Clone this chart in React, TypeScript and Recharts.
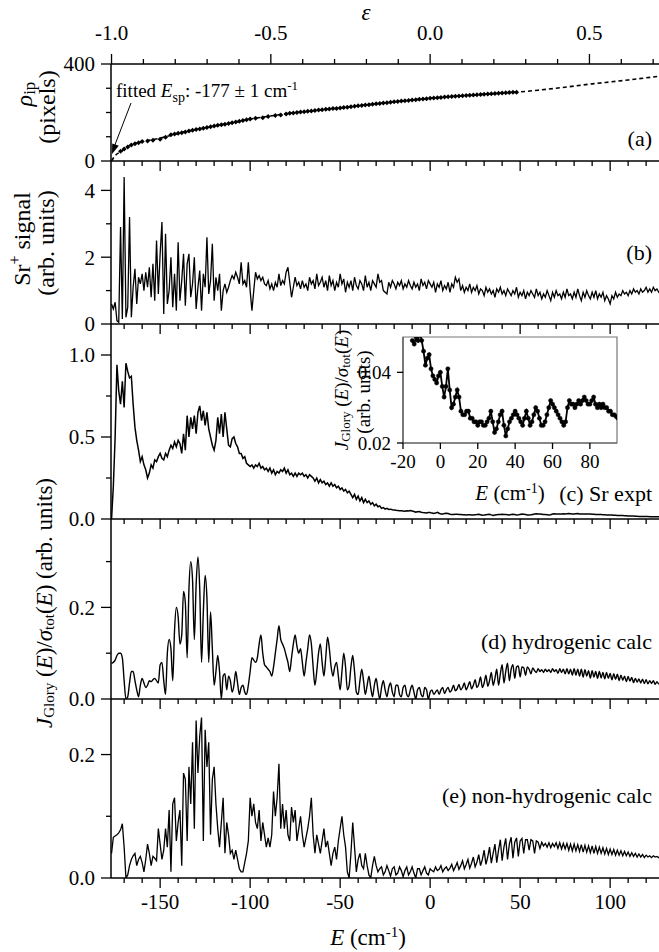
import React from 'react';
import { ComposedChart, LineChart, Line, Scatter, XAxis, YAxis, ReferenceArea } from 'recharts';

const FONT = "'Liberation Serif', 'Times New Roman', Times, 'DejaVu Serif', serif";

// ---------- shared energy grid (cm^-1) ----------
const E_GRID = [
  -177, -176, -175, -174, -173, -172, -171, -170, -169, -168,
  -167, -166, -165, -164, -163, -162, -161, -160, -159, -158,
  -157, -156, -155, -154, -153, -152, -151, -150, -149, -148,
  -147, -146, -145, -144, -143, -142, -141, -140, -139, -138,
  -137, -136, -135, -134, -133, -132, -131, -130, -129, -128,
  -127, -126, -125, -124, -123, -122, -121, -120, -119, -118,
  -117, -116, -115, -114, -113, -112, -111, -110, -109, -108,
  -107, -106, -105, -104, -103, -102, -101, -100, -99, -98,
  -97, -96, -95, -94, -93, -92, -91, -90, -89, -88,
  -87, -86, -85, -84, -83, -82, -81, -80, -79, -78,
  -77, -76, -75, -74, -73, -72, -71, -70, -69, -68,
  -67, -66, -65, -64, -63, -62, -61, -60, -59, -58,
  -57, -56, -55, -54, -53, -52, -51, -50, -49, -48,
  -47, -46, -45, -44, -43, -42, -41, -40, -39, -38,
  -37, -36, -35, -34, -33, -32, -31, -30, -29, -28,
  -27, -26, -25, -24, -23, -22, -21, -20, -19, -18,
  -17, -16, -15, -14, -13, -12, -11, -10, -9, -8,
  -7, -6, -5, -4, -3, -2, -1, 0, 1, 2,
  3, 4, 5, 6, 7, 8, 9, 10, 11, 12,
  13, 14, 15, 16, 17, 18, 19, 20, 21, 22,
  23, 24, 25, 26, 27, 28, 29, 30, 31, 32,
  33, 34, 35, 36, 37, 38, 39, 40, 41, 42,
  43, 44, 45, 46, 47, 48, 49, 50, 51, 52,
  53, 54, 55, 56, 57, 58, 59, 60, 61, 62,
  63, 64, 65, 66, 67, 68, 69, 70, 71, 72,
  73, 74, 75, 76, 77, 78, 79, 80, 81, 82,
  83, 84, 85, 86, 87, 88, 89, 90, 91, 92,
  93, 94, 95, 96, 97, 98, 99, 100, 101, 102,
  103, 104, 105, 106, 107, 108, 109, 110, 111, 112,
  113, 114, 115, 116, 117, 118, 119, 120, 121, 122,
  123, 124, 125, 126, 127, 128,
];

// (b) Sr+ signal
const SIGNAL_B = [
  0.60, 0.45, 0.65, 0.10, 0.05, 2.90, 0.15, 4.40, 0.20, 0.50,
  3.20, 0.20, 1.10, 1.65, 0.60, 1.40, 1.20, 1.50, 1.00, 1.55,
  1.10, 1.70, 0.80, 1.80, 0.70, 2.50, 0.90, 2.10, 3.05, 0.30,
  2.70, 0.60, 1.00, 2.00, 0.50, 1.50, 0.40, 2.45, 0.70, 1.30,
  2.10, 0.55, 1.80, 2.10, 0.80, 1.20, 2.00, 0.45, 1.10, 1.60,
  0.40, 1.50, 1.10, 2.60, 0.90, 1.30, 2.40, 0.70, 1.40, 1.00,
  1.50, 0.40, 1.00, 1.20, 0.95, 1.10, 1.30, 1.45, 1.35, 1.55,
  1.40, 1.20, 1.85, 1.20, 1.30, 1.10, 1.85, 1.00, 0.40, 1.00,
  1.55, 1.35, 1.45, 1.30, 1.40, 1.20, 1.15, 1.30, 1.05, 1.20,
  1.00, 1.25, 1.10, 1.50, 1.15, 1.30, 1.20, 1.55, 1.70, 1.25,
  0.80, 1.10, 1.40, 1.15, 1.25, 1.05, 1.30, 1.10, 1.20, 1.00,
  1.40, 1.20, 1.30, 1.05, 1.50, 1.15, 1.25, 1.40, 1.10, 1.30,
  1.00, 1.45, 1.15, 1.30, 1.00, 1.25, 1.10, 1.50, 1.20, 1.35,
  0.95, 1.25, 1.10, 1.30, 1.00, 1.40, 1.15, 1.05, 1.30, 1.20,
  1.00, 1.45, 1.10, 1.25, 1.00, 1.30, 1.20, 1.10, 1.50, 1.25,
  1.30, 1.00, 0.95, 0.90, 1.25, 1.10, 1.30, 1.20, 1.05, 1.25,
  1.15, 1.30, 1.05, 1.20, 1.10, 1.30, 1.15, 1.05, 1.25, 1.10,
  1.20, 1.00, 1.35, 1.15, 1.25, 1.05, 1.30, 1.20, 1.10, 1.25,
  0.95, 1.20, 1.10, 1.30, 1.00, 1.15, 1.05, 1.25, 0.95, 1.20,
  1.10, 1.40, 1.25, 1.35, 1.00, 1.15, 0.95, 1.10, 1.00, 1.20,
  0.95, 1.10, 1.00, 1.15, 0.90, 1.05, 1.00, 0.85, 1.10, 0.95,
  1.05, 0.90, 1.00, 0.80, 1.05, 0.95, 1.10, 0.90, 1.00, 0.85,
  1.05, 0.95, 0.85, 1.00, 0.90, 1.10, 0.80, 0.95, 0.85, 1.00,
  0.75, 0.95, 0.85, 1.00, 0.90, 0.80, 1.05, 0.85, 0.95, 0.75,
  0.90, 0.80, 1.00, 0.85, 0.70, 0.95, 0.80, 1.00, 0.85, 0.90,
  0.75, 0.95, 0.80, 1.05, 0.85, 0.90, 0.75, 0.95, 0.80, 1.05,
  0.85, 0.70, 0.95, 0.80, 1.00, 0.85, 0.75, 0.95, 0.80, 1.00,
  0.75, 0.90, 0.80, 0.95, 0.70, 0.85, 0.75, 0.60, 0.85, 0.75,
  0.95, 0.80, 0.90, 0.85, 1.00, 0.90, 0.95, 0.85, 1.00, 0.90,
  1.05, 0.95, 1.00, 0.90, 1.05, 0.95, 1.00, 1.10, 0.95, 1.05,
  0.95, 1.10, 1.00, 1.05, 0.95, 1.00,
];

// (c) Sr expt  J_Glory/sigma_tot
const EXPT_C = [
  0.00, 0.20, 0.50, 0.94, 0.78, 0.70, 0.84, 0.68, 0.95, 0.90,
  0.86, 0.87, 0.70, 0.56, 0.48, 0.42, 0.35, 0.38, 0.33, 0.30,
  0.25, 0.28, 0.33, 0.31, 0.36, 0.35, 0.38, 0.40, 0.37, 0.36,
  0.40, 0.38, 0.42, 0.45, 0.43, 0.47, 0.44, 0.48, 0.46, 0.40,
  0.52, 0.42, 0.63, 0.50, 0.62, 0.55, 0.63, 0.52, 0.65, 0.69,
  0.60, 0.66, 0.57, 0.65, 0.55, 0.50, 0.45, 0.42, 0.48, 0.62,
  0.52, 0.64, 0.50, 0.65, 0.55, 0.45, 0.44, 0.49, 0.50, 0.46,
  0.44, 0.40, 0.40, 0.37, 0.38, 0.34, 0.33, 0.32, 0.33, 0.31,
  0.33, 0.32, 0.34, 0.31, 0.32, 0.30, 0.31, 0.29, 0.31, 0.28,
  0.30, 0.27, 0.29, 0.28, 0.30, 0.29, 0.31, 0.28, 0.30, 0.27,
  0.28, 0.26, 0.28, 0.26, 0.28, 0.27, 0.28, 0.26, 0.27, 0.25,
  0.27, 0.26, 0.25, 0.23, 0.25, 0.22, 0.24, 0.22, 0.23, 0.21,
  0.22, 0.20, 0.22, 0.20, 0.21, 0.19, 0.20, 0.18, 0.19, 0.17,
  0.18, 0.16, 0.17, 0.15, 0.13, 0.15, 0.12, 0.14, 0.11, 0.13,
  0.10, 0.12, 0.10, 0.11, 0.09, 0.10, 0.08, 0.09, 0.075, 0.08,
  0.065, 0.07, 0.06, 0.065, 0.058, 0.06, 0.056, 0.055, 0.053, 0.052,
  0.051, 0.050, 0.049, 0.048, 0.050, 0.049, 0.051, 0.049, 0.046, 0.042,
  0.044, 0.045, 0.041, 0.039, 0.038, 0.037, 0.039, 0.040, 0.036, 0.033,
  0.036, 0.041, 0.035, 0.030, 0.031, 0.033, 0.035, 0.033, 0.029, 0.028,
  0.028, 0.029, 0.029, 0.027, 0.027, 0.026, 0.026, 0.025, 0.026, 0.026,
  0.025, 0.025, 0.026, 0.027, 0.029, 0.026, 0.023, 0.024, 0.026, 0.028,
  0.029, 0.025, 0.022, 0.024, 0.026, 0.027, 0.028, 0.029, 0.028, 0.027,
  0.026, 0.025, 0.027, 0.029, 0.027, 0.025, 0.026, 0.028, 0.030, 0.029,
  0.027, 0.025, 0.025, 0.026, 0.028, 0.030, 0.032, 0.031, 0.030, 0.029,
  0.028, 0.027, 0.026, 0.025, 0.026, 0.030, 0.032, 0.031, 0.031, 0.030,
  0.031, 0.032, 0.031, 0.032, 0.033, 0.032, 0.031, 0.031, 0.032, 0.033,
  0.031, 0.030, 0.031, 0.030, 0.031, 0.030, 0.030, 0.029, 0.029, 0.028,
  0.028, 0.0275, 0.027, 0.026, 0.026, 0.025, 0.025, 0.024, 0.024, 0.023,
  0.023, 0.022, 0.022, 0.021, 0.021, 0.020, 0.020, 0.019, 0.019, 0.018,
  0.018, 0.017, 0.017, 0.016, 0.016, 0.016, 0.015, 0.015, 0.015, 0.014,
  0.014, 0.014, 0.013, 0.013, 0.013, 0.013,
];

// (d) hydrogenic calc
const HYDRO_D = [
  0.078, 0.080, 0.085, 0.095, 0.100, 0.100, 0.090, 0.040, 0.000, 0.005,
  0.035, 0.060, 0.060, 0.040, 0.020, 0.005, 0.030, 0.045, 0.035, 0.025,
  0.030, 0.040, 0.038, 0.042, 0.045, 0.040, 0.035, 0.075, 0.080, 0.040,
  0.010, 0.100, 0.130, 0.110, 0.040, 0.150, 0.200, 0.180, 0.120, 0.140,
  0.235, 0.210, 0.090, 0.240, 0.300, 0.260, 0.130, 0.250, 0.310, 0.240,
  0.080, 0.190, 0.270, 0.220, 0.080, 0.190, 0.110, 0.030, 0.060, 0.095,
  0.060, 0.000, 0.050, 0.055, 0.020, 0.050, 0.040, 0.015, 0.030, 0.060,
  0.035, 0.010, 0.025, 0.030, 0.015, 0.010, 0.030, 0.060, 0.090, 0.085,
  0.080, 0.090, 0.120, 0.140, 0.100, 0.075, 0.070, 0.065, 0.060, 0.050,
  0.070, 0.100, 0.130, 0.160, 0.130, 0.120, 0.110, 0.095, 0.080, 0.060,
  0.090, 0.120, 0.140, 0.115, 0.100, 0.110, 0.080, 0.050, 0.080, 0.110,
  0.140, 0.120, 0.070, 0.030, 0.060, 0.100, 0.120, 0.080, 0.050, 0.090,
  0.135, 0.110, 0.070, 0.050, 0.070, 0.080, 0.050, 0.020, 0.060, 0.100,
  0.070, 0.020, 0.030, 0.070, 0.095, 0.060, 0.015, 0.010, 0.040, 0.065,
  0.040, 0.010, 0.030, 0.050, 0.025, 0.005, 0.030, 0.045, 0.020, 0.000,
  0.025, 0.040, 0.020, 0.005, 0.025, 0.035, 0.015, 0.005, 0.030, 0.030,
  0.010, 0.005, 0.025, 0.030, 0.010, 0.005, 0.020, 0.030, 0.015, 0.000,
  0.020, 0.025, 0.010, 0.005, 0.025, 0.020, 0.000, 0.015, 0.020, 0.010,
  0.015, 0.020, 0.010, 0.020, 0.025, 0.012, 0.020, 0.025, 0.015, 0.020,
  0.030, 0.018, 0.022, 0.032, 0.020, 0.025, 0.035, 0.020, 0.028, 0.038,
  0.022, 0.030, 0.042, 0.025, 0.032, 0.048, 0.025, 0.035, 0.052, 0.028,
  0.040, 0.058, 0.030, 0.045, 0.065, 0.030, 0.055, 0.075, 0.035, 0.060,
  0.078, 0.040, 0.065, 0.075, 0.045, 0.070, 0.072, 0.048, 0.070, 0.068,
  0.052, 0.070, 0.065, 0.055, 0.068, 0.062, 0.058, 0.066, 0.060, 0.064,
  0.058, 0.065, 0.060, 0.064, 0.058, 0.066, 0.060, 0.064, 0.056, 0.066,
  0.058, 0.065, 0.055, 0.066, 0.055, 0.065, 0.052, 0.066, 0.052, 0.065,
  0.050, 0.065, 0.048, 0.064, 0.050, 0.062, 0.046, 0.062, 0.048, 0.060,
  0.045, 0.060, 0.046, 0.058, 0.044, 0.058, 0.045, 0.056, 0.042, 0.055,
  0.043, 0.054, 0.040, 0.052, 0.041, 0.050, 0.038, 0.049, 0.039, 0.047,
  0.036, 0.045, 0.037, 0.044, 0.035, 0.043, 0.034, 0.042, 0.033, 0.040,
  0.034, 0.040, 0.032, 0.038, 0.033, 0.037,
];

// (e) non-hydrogenic calc
const NONHYDRO_E = [
  0.040, 0.066, 0.068, 0.070, 0.073, 0.078, 0.088, 0.050, 0.000, 0.005,
  0.020, 0.030, 0.036, 0.040, 0.020, 0.030, 0.035, 0.025, 0.010, 0.030,
  0.055, 0.040, 0.020, 0.035, 0.032, 0.028, 0.080, 0.055, 0.030, 0.045,
  0.080, 0.050, 0.110, 0.010, 0.120, 0.130, 0.060, 0.090, 0.110, 0.020,
  0.170, 0.160, 0.060, 0.180, 0.120, 0.220, 0.080, 0.255, 0.170, 0.230,
  0.260, 0.060, 0.240, 0.180, 0.220, 0.070, 0.160, 0.180, 0.120, 0.080,
  0.050, 0.090, 0.130, 0.040, 0.090, 0.070, 0.040, 0.045, 0.030, 0.045,
  0.030, 0.015, 0.010, 0.010, 0.025, 0.040, 0.060, 0.130, 0.100, 0.120,
  0.090, 0.080, 0.110, 0.060, 0.090, 0.070, 0.050, 0.065, 0.050, 0.070,
  0.140, 0.100, 0.130, 0.185, 0.080, 0.120, 0.080, 0.110, 0.070, 0.060,
  0.115, 0.090, 0.110, 0.060, 0.080, 0.100, 0.070, 0.050, 0.065, 0.080,
  0.100, 0.130, 0.070, 0.040, 0.070, 0.055, 0.040, 0.060, 0.080, 0.050,
  0.060, 0.040, 0.020, 0.040, 0.050, 0.030, 0.060, 0.080, 0.100, 0.070,
  0.050, 0.010, 0.000, 0.040, 0.090, 0.050, 0.010, 0.030, 0.040, 0.020,
  0.015, 0.040, 0.020, 0.005, 0.000, 0.020, 0.035, 0.020, 0.010, 0.015,
  0.018, 0.005, 0.010, 0.020, 0.012, 0.003, 0.015, 0.018, 0.005, 0.008,
  0.018, 0.012, 0.002, 0.012, 0.018, 0.005, 0.010, 0.018, 0.008, 0.000,
  0.015, 0.015, 0.005, 0.012, 0.018, 0.008, 0.005, 0.015, 0.012, 0.010,
  0.018, 0.012, 0.014, 0.020, 0.010, 0.015, 0.018, 0.012, 0.016, 0.022,
  0.012, 0.018, 0.025, 0.014, 0.020, 0.028, 0.015, 0.022, 0.030, 0.016,
  0.024, 0.034, 0.018, 0.026, 0.038, 0.020, 0.030, 0.045, 0.022, 0.034,
  0.050, 0.024, 0.040, 0.055, 0.025, 0.045, 0.062, 0.028, 0.050, 0.064,
  0.030, 0.055, 0.066, 0.032, 0.058, 0.065, 0.035, 0.060, 0.064, 0.040,
  0.062, 0.062, 0.045, 0.062, 0.060, 0.040, 0.060, 0.058, 0.048, 0.058,
  0.052, 0.056, 0.050, 0.057, 0.049, 0.056, 0.051, 0.057, 0.048, 0.057,
  0.047, 0.056, 0.047, 0.056, 0.045, 0.055, 0.044, 0.055, 0.044, 0.054,
  0.043, 0.054, 0.042, 0.053, 0.042, 0.052, 0.041, 0.052, 0.040, 0.051,
  0.040, 0.050, 0.040, 0.049, 0.039, 0.048, 0.038, 0.047, 0.038, 0.046,
  0.037, 0.045, 0.037, 0.044, 0.036, 0.043, 0.036, 0.042, 0.035, 0.041,
  0.035, 0.040, 0.034, 0.039, 0.034, 0.038, 0.033, 0.037, 0.034, 0.036,
  0.033, 0.036, 0.034, 0.035, 0.033, 0.035,
];

// (a) impact-parameter radius points and fitted curve
const RHO_PTS_E = [
  -172, -170, -168, -166, -164, -162, -160, -157, -154, -150,
  -147, -144, -142, -140, -138, -136, -134, -132, -130, -128,
  -126, -124, -122, -120, -118, -116, -114, -112, -110, -108,
  -106, -104, -102, -100, -97, -93, -90, -86, -83, -80,
  -78, -76, -74, -72, -70, -68, -66, -64, -62, -60,
  -58, -56, -54, -52, -50, -48, -46, -44, -42, -40,
  -38, -36, -34, -32, -30, -28, -26, -24, -22, -20,
  -18, -16, -14, -12, -10, -8, -6, -4, -2, 0,
  2, 4, 6, 8, 10, 12, 14, 16, 18, 20,
  22, 24, 26, 28, 30, 32, 34, 36, 38, 40,
  42, 44, 46, 48,
];
const RHO_PTS_V = [
  40, 50, 58, 66, 71, 75, 80, 82, 86, 90,
  98, 108, 111, 114, 117, 120, 124, 127, 130, 132,
  135, 138, 141, 144, 147, 150, 152, 155, 158, 161,
  164, 167, 170, 173, 176, 178, 184, 188, 190, 194,
  197, 198, 200, 202, 203, 205, 206, 208, 210, 211,
  213, 214, 216, 217, 219, 221, 222, 224, 226, 228,
  229, 231, 232, 234, 236, 237, 239, 240, 242, 244,
  245, 247, 248, 250, 252, 253, 255, 256, 257, 259,
  260, 261, 262, 264, 265, 266, 267, 268, 269, 270,
  271, 272, 273, 274, 275, 276, 277, 278, 279, 280,
  281, 282, 283, 284,
];
const RHO_FIT_E = [-177, -175, -172, -168, -164, -160, -150, -140, -130, -120, -110, -100, -90, -80, -70, -60, -50, -40, -30, -20, -10, 0, 10, 20, 30, 40, 50, 60, 70, 80, 90, 100, 110, 120, 128];
const RHO_FIT_V = [0, 22, 38, 60, 72, 80, 94, 114, 130, 144, 158, 173, 184, 195, 203, 211, 219, 228, 236, 244, 252, 259, 265, 270, 275, 280, 285, 292, 300, 309, 318, 326, 334, 343, 350];

// ---------- axes ----------
const X_MIN = -177.3;
const X_MAX = 127.7;
const E_SP = 177;
const X_TICKS = [-170, -160, -150, -140, -130, -120, -110, -100, -90, -80, -70, -60, -50, -40, -30, -20, -10, 0, 10, 20, 30, 40, 50, 60, 70, 80, 90, 100, 110, 120];
const X_TICK_LABELS = ['', '', '-150', '', '', '', '', '-100', '', '', '', '', '-50', '', '', '', '', '0', '', '', '', '', '50', '', '', '', '', '100', '', ''];
const EPS_TICKS = [-1.0, -0.9, -0.8, -0.7, -0.6, -0.5, -0.4, -0.3, -0.2, -0.1, 0.0, 0.1, 0.2, 0.3, 0.4, 0.5, 0.6, 0.7];
const EPS_TICK_LABELS = ['-1.0', '', '', '', '', '-0.5', '', '', '', '', '0.0', '', '', '', '', '0.5', '', ''];

const RHO_TICKS = [0, 100, 200, 300, 400];
const RHO_TICK_LABELS = ['0', '', '', '', '400'];
const SIG_TICKS = [0, 1, 2, 3, 4];
const SIG_TICK_LABELS = ['0', '', '2', '', '4'];
const C_TICKS = [0, 0.25, 0.5, 0.75, 1.0];
const C_TICK_LABELS = ['0.0', '', '0.5', '', '1.0'];
const D_TICKS = [0, 0.1, 0.2, 0.3];
const D_TICK_LABELS = ['0.0', '', '0.2', ''];
const EP_TICKS = [0, 0.1, 0.2];
const EP_TICK_LABELS = ['0.0', '', '0.2'];
const INSET_X_TICKS = [-20, 0, 20, 40, 60, 80];
const INSET_X_LABELS = ['-20', '0', '20', '40', '60', '80'];
const INSET_Y_TICKS = [0.02, 0.04];
const INSET_Y_LABELS = ['0.02', '0.04'];

// ---------- tables ----------
const rowsB = E_GRID.map((E, i) => ({ E, v: SIGNAL_B[i] }));
const rowsC = E_GRID.map((E, i) => ({ E, v: EXPT_C[i] }));
const rowsD = E_GRID.map((E, i) => ({ E, v: HYDRO_D[i] }));
const rowsE = E_GRID.map((E, i) => ({ E, v: NONHYDRO_E[i] }));
const rowsInset = rowsC.filter((r) => r.E >= -15 && r.E <= 95);
const rhoPts = RHO_PTS_E.map((E, i) => ({ E, rho: RHO_PTS_V[i] }));
const rhoFit = RHO_FIT_E.map((E, i) => ({ E, rho: RHO_FIT_V[i] }));
// invisible anchor so the top epsilon axis has a series bound to it
const epsAnchor = EPS_TICKS.map((eps) => ({ eps, rho: 0 }));

// ---------- tick renderers ----------
const findLabel = (ticks: number[], labels: string[], v: number) => {
  const i = ticks.findIndex((t) => Math.abs(t - v) < 1e-9);
  return i >= 0 ? labels[i] : '';
};
const TXT = { fontFamily: FONT };
const TICK_FS = 21;

const bottomTick = (ticks: number[], labels: string[], show: boolean, fs = TICK_FS, majorLen = 10, minorLen = 5) => (p: any) => {
  const lab = findLabel(ticks, labels, p.payload.value);
  const len = lab ? majorLen : minorLen;
  return (
    <g>
      <line x1={p.x} x2={p.x} y1={p.y} y2={p.y + len} stroke="#000" strokeWidth={1.3} />
      {show && lab ? (
        <text x={p.x} y={p.y + len + fs} textAnchor="middle" style={TXT} fontSize={fs} fill="#000">{lab}</text>
      ) : null}
    </g>
  );
};

const topTick = (ticks: number[], labels: string[], fs = TICK_FS) => (p: any) => {
  const lab = findLabel(ticks, labels, p.payload.value);
  const len = lab ? 10 : 5;
  return (
    <g>
      <line x1={p.x} x2={p.x} y1={p.y} y2={p.y - len} stroke="#000" strokeWidth={1.3} />
      {lab ? (
        <text x={p.x} y={p.y - 24} textAnchor="middle" style={TXT} fontSize={fs} fill="#000">{lab}</text>
      ) : null}
    </g>
  );
};

const leftTick = (ticks: number[], labels: string[], fs = TICK_FS, majorLen = 10, minorLen = 5) => (p: any) => {
  const lab = findLabel(ticks, labels, p.payload.value);
  const len = lab ? majorLen : minorLen;
  return (
    <g>
      <line x1={p.x} x2={p.x - len} y1={p.y} y2={p.y} stroke="#000" strokeWidth={1.3} />
      {lab ? (
        <text x={p.x - len - 6} y={p.y} dy="0.35em" textAnchor="end" style={TXT} fontSize={fs} fill="#000">{lab}</text>
      ) : null}
    </g>
  );
};

const AXIS_LINE = { stroke: '#000', strokeWidth: 1.5 };
const CHART_W = 660;
const Y_AXIS_W = 111;

const diamond = (p: any) => {
  const { cx, cy } = p;
  if (cx == null || cy == null) return <g />;
  const r = 2.5;
  return <path d={`M${cx - r},${cy}L${cx},${cy - r}L${cx + r},${cy}L${cx},${cy + r}Z`} fill="#000" />;
};

function Panel(props: { top: number; plotH: number; rows: any[]; ymax: number; yTicks: number[]; yLabels: string[]; bottom?: boolean; sw?: number; curve?: any }) {
  const { top, plotH, rows, ymax, yTicks, yLabels, bottom, sw, curve } = props;
  const xH = bottom ? 40 : 12;
  return (
    <div style={{ position: 'absolute', left: 0, top }}>
      <LineChart width={CHART_W} height={plotH + xH} data={rows} margin={{ top: 0, right: 0, bottom: 0, left: 0 }}>
        <XAxis dataKey="E" type="number" domain={[X_MIN, X_MAX]} allowDataOverflow ticks={X_TICKS} interval={0}
          tickSize={0} tickMargin={0} tickLine={false} axisLine={AXIS_LINE} height={xH}
          tick={bottomTick(X_TICKS, X_TICK_LABELS, !!bottom)} />
        <YAxis type="number" domain={[0, ymax]} allowDataOverflow ticks={yTicks} interval={0}
          tickSize={0} tickMargin={0} tickLine={false} axisLine={AXIS_LINE} width={Y_AXIS_W}
          tick={leftTick(yTicks, yLabels)} />
        <Line dataKey="v" type={curve ?? 'linear'} stroke="#000" strokeWidth={sw ?? 1.3} dot={false} isAnimationActive={false} />
      </LineChart>
    </div>
  );
}

export default function App() {
  const T = { style: { fontFamily: FONT }, fill: '#000' } as any;
  return (
    <div style={{ position: 'absolute', left: 0, top: 0, width: 659, height: 952, overflow: 'hidden', background: '#fff', fontFamily: FONT }}>
      {/* (a) */}
      <div style={{ position: 'absolute', left: 0, top: 0 }}>
        <ComposedChart width={CHART_W} height={14 + 50 + 97 + 12} margin={{ top: 14, right: 0, bottom: 0, left: 0 }}>
          <XAxis xAxisId="eps" dataKey="eps" orientation="top" type="number" domain={[X_MIN / E_SP, X_MAX / E_SP]} allowDataOverflow
            ticks={EPS_TICKS} interval={0} tickSize={0} tickMargin={0} tickLine={false} axisLine={AXIS_LINE} height={50}
            tick={topTick(EPS_TICKS, EPS_TICK_LABELS)} />
          <XAxis xAxisId="E" dataKey="E" type="number" domain={[X_MIN, X_MAX]} allowDataOverflow ticks={X_TICKS} interval={0}
            tickSize={0} tickMargin={0} tickLine={false} axisLine={AXIS_LINE} height={12}
            tick={bottomTick(X_TICKS, X_TICK_LABELS, false)} />
          <YAxis type="number" domain={[0, 400]} allowDataOverflow ticks={RHO_TICKS} interval={0}
            tickSize={0} tickMargin={0} tickLine={false} axisLine={AXIS_LINE} width={Y_AXIS_W}
            tick={leftTick(RHO_TICKS, RHO_TICK_LABELS)} />
          <Line xAxisId="eps" data={epsAnchor} dataKey="rho" stroke="none" strokeWidth={0} dot={false} activeDot={false} isAnimationActive={false} />
          <Line xAxisId="E" data={rhoFit} dataKey="rho" type="monotone" stroke="#000" strokeWidth={1.6} strokeDasharray="4 3" dot={false} isAnimationActive={false} />
          <Scatter xAxisId="E" data={rhoPts} dataKey="rho" shape={diamond} isAnimationActive={false} />
        </ComposedChart>
      </div>

      <Panel top={161} plotH={163} rows={rowsB} ymax={4.88} yTicks={SIG_TICKS} yLabels={SIG_TICK_LABELS} />
      <Panel top={324} plotH={195} rows={rowsC} ymax={1.189} yTicks={C_TICKS} yLabels={C_TICK_LABELS} sw={1.5} />
      <Panel top={519} plotH={180} rows={rowsD} ymax={0.393} yTicks={D_TICKS} yLabels={D_TICK_LABELS} curve="monotone" sw={1.4} />
      <Panel top={699} plotH={179} rows={rowsE} ymax={0.29} yTicks={EP_TICKS} yLabels={EP_TICK_LABELS} bottom />

      {/* inset */}
      <div style={{ position: 'absolute', left: 330, top: 336 }}>
        <LineChart width={288} height={147} data={rowsInset} margin={{ top: 1, right: 1, bottom: 0, left: 0 }}>
          <XAxis dataKey="E" type="number" domain={[-20, 94.5]} allowDataOverflow ticks={INSET_X_TICKS} interval={0}
            tickSize={0} tickMargin={0} tickLine={false} axisLine={{ stroke: '#555', strokeWidth: 1.2 }} height={40}
            tick={bottomTick(INSET_X_TICKS, INSET_X_LABELS, true, 19, 6, 6)} />
          <YAxis type="number" domain={[0.02, 0.05]} allowDataOverflow ticks={INSET_Y_TICKS} interval={0}
            tickSize={0} tickMargin={0} tickLine={false} axisLine={{ stroke: '#555', strokeWidth: 1.2 }} width={73}
            tick={leftTick(INSET_Y_TICKS, INSET_Y_LABELS, 19, 6, 6)} />
          <ReferenceArea x1={-20} x2={94.5} y1={0.02} y2={0.05} fill="none" stroke="#777" strokeWidth={1.2} ifOverflow="visible" />
          <Line dataKey="v" type="linear" stroke="#000" strokeWidth={1.8}
            dot={{ r: 2.1, fill: '#000', stroke: '#000', strokeWidth: 0.5 }} isAnimationActive={false} />
        </LineChart>
      </div>

      {/* text overlay */}
      <svg width={659} height={952} style={{ position: 'absolute', left: 0, top: 0, pointerEvents: 'none' }}>
        <text x={366} y={20} textAnchor="middle" fontSize={23} fontStyle="italic" {...T}>ε</text>

        <text x={116} y={97} fontSize={19} {...T}>
          fitted <tspan fontStyle="italic">E</tspan><tspan dy={5} fontSize={14}>sp</tspan><tspan dy={-5}>: -177 ± 1 cm</tspan><tspan dy={-7} fontSize={13}>-1</tspan>
        </text>
        <line x1={131} y1={103} x2={114.5} y2={146} stroke="#000" strokeWidth={1} />
        <polygon points="112,154 118.8,145.8 112.2,143.4" fill="#000" />

        <text x={24} y={94} transform="rotate(-90 24 94)" textAnchor="middle" dominantBaseline="central" fontSize={24} {...T}>
          <tspan fontStyle="italic">ρ</tspan><tspan dy={5} fontSize={17}>ip</tspan>
        </text>
        <text x={47} y={107} transform="rotate(-90 47 107)" textAnchor="middle" dominantBaseline="central" fontSize={24} {...T}>(pixels)</text>

        <text x={22} y={239} transform="rotate(-90 22 239)" textAnchor="middle" dominantBaseline="central" fontSize={24} {...T}>
          Sr<tspan dy={-8} fontSize={16}>+</tspan><tspan dy={8}> signal</tspan>
        </text>
        <text x={46} y={243} transform="rotate(-90 46 243)" textAnchor="middle" dominantBaseline="central" fontSize={24} {...T}>(arb. units)</text>

        <text x={44} y={603} transform="rotate(-90 44 603)" textAnchor="middle" dominantBaseline="central" fontSize={23} {...T}>
          <tspan fontStyle="italic">J</tspan><tspan dy={5} fontSize={15}>Glory</tspan><tspan dy={-5}> (</tspan><tspan fontStyle="italic">E</tspan>)/<tspan fontStyle="italic">σ</tspan><tspan dy={5} fontSize={15}>tot</tspan><tspan dy={-5}>(</tspan><tspan fontStyle="italic">E</tspan>) (arb. units)
        </text>

        <text x={341} y={390} transform="rotate(-90 341 390)" textAnchor="middle" dominantBaseline="central" fontSize={19} {...T}>
          <tspan fontStyle="italic">J</tspan><tspan dy={4} fontSize={13}>Glory</tspan><tspan dy={-4}> (</tspan><tspan fontStyle="italic">E</tspan>)/<tspan fontStyle="italic">σ</tspan><tspan dy={4} fontSize={13}>tot</tspan><tspan dy={-4}>(</tspan><tspan fontStyle="italic">E</tspan>)
        </text>
        <text x={363} y={392} transform="rotate(-90 363 392)" textAnchor="middle" dominantBaseline="central" fontSize={19} {...T}>(arb. units)</text>
        <text x={510} y={500} textAnchor="middle" fontSize={21} {...T}>
          <tspan fontStyle="italic">E</tspan> (cm<tspan dy={-7} fontSize={14}>-1</tspan><tspan dy={7}>)</tspan>
        </text>

        <text x={652} y={146} textAnchor="end" fontSize={22} {...T}>(a)</text>
        <text x={652} y={260} textAnchor="end" fontSize={22} {...T}>(b)</text>
        <text x={652} y={501} textAnchor="end" fontSize={22} {...T}>(c) Sr expt</text>
        <text x={652} y={649} textAnchor="end" fontSize={22} {...T}>(d) hydrogenic calc</text>
        <text x={652} y={803} textAnchor="end" fontSize={22} {...T}>(e) non-hydrogenic calc</text>

        <text x={368} y={945} textAnchor="middle" fontSize={23} {...T}>
          <tspan fontStyle="italic">E</tspan> (cm<tspan dy={-8} fontSize={15}>-1</tspan><tspan dy={8}>)</tspan>
        </text>
      </svg>
    </div>
  );
}
